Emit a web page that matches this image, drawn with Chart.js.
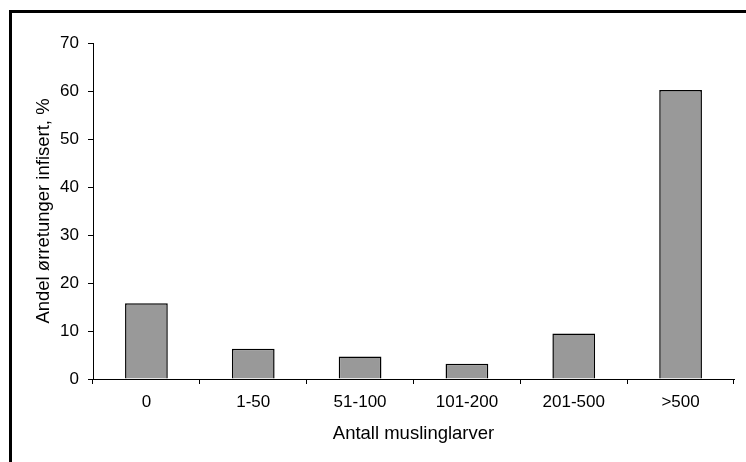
<!DOCTYPE html>
<html>
<head>
<meta charset="utf-8">
<script src="https://cdn.jsdelivr.net/npm/chart.js@4"></script>
<style>
  body { margin: 0; background: #fff; }
  #wrap { position: relative; width: 746px; height: 462px; overflow: hidden; }
  #frame { position: absolute; left: 9px; top: 10px; width: 800px; height: 500px;
           border-left: 3px solid #000; border-top: 3px solid #000; }
  canvas { position: absolute; left: 0; top: 0; }
</style>
</head>
<body>
<div id="wrap">
  <div id="frame"></div>
  <canvas id="myChart" width="746" height="462"></canvas>
</div>
<script>
const categories = ['0', '1-50', '51-100', '101-200', '201-500', '>500'];
const infected = [15.8, 6.3, 4.7, 3.2, 9.5, 60.2];
const yTicks = [0, 10, 20, 30, 40, 50, 60, 70];

const font = 'Liberation Sans, Arial, sans-serif';

const ctx = document.getElementById('myChart').getContext('2d');
const myChart = new Chart(ctx, {
    type: 'bar',
    data: {
        labels: categories,
        datasets: [{
            data: infected,
            backgroundColor: '#999999',
            borderColor: '#000000',
            borderWidth: 1.5,
            barPercentage: 0.4,
            categoryPercentage: 1
        }]
    },
    options: {
        responsive: false,
        animation: false,
        layout: { padding: { top: 43, right: 12, bottom: 0, left: 0 } },
        plugins: { legend: { display: false }, tooltip: { enabled: false } },
        scales: {
            x: {
                afterFit: scale => { scale.height = 83; },
                grid: { display: true, drawOnChartArea: false, drawTicks: true, tickLength: 5, color: '#000', offset: true },
                border: { display: true, color: '#000', width: 1 },
                ticks: { color: '#000', font: { family: font, size: 17 }, padding: 8, maxRotation: 0 },
                title: { display: true, text: 'Antall muslinglarver', color: '#000',
                         font: { family: font, size: 18.5 }, padding: { top: 0, bottom: 17 } }
            },
            y: {
                min: 0,
                max: 70,
                afterFit: scale => { scale.width = 93; },
                afterBuildTicks: scale => { scale.ticks = yTicks.map(v => ({ value: v })); },
                grid: { display: true, drawOnChartArea: false, drawTicks: true, tickLength: 5, color: '#000' },
                border: { display: true, color: '#000', width: 1 },
                ticks: { color: '#000', font: { family: font, size: 17 }, padding: 9 },
                title: { display: true, text: 'Andel ørretunger infisert, %', color: '#000',
                         font: { family: font, size: 18.5 }, padding: { top: 33, bottom: 0 } }
            }
        }
    }
});
</script>
</body>
</html>
